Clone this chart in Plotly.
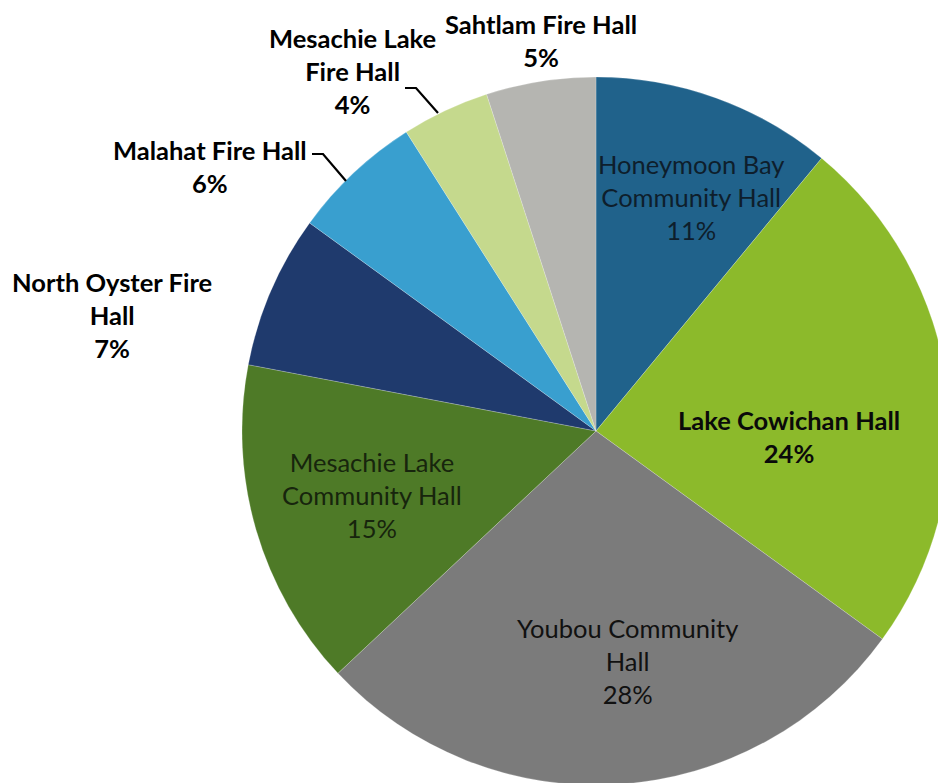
import plotly.graph_objects as go

# Share of usage by hall, clockwise from 12 o'clock
halls = [
    "Honeymoon Bay Community Hall",
    "Lake Cowichan Hall",
    "Youbou Community Hall",
    "Mesachie Lake Community Hall",
    "North Oyster Fire Hall",
    "Malahat Fire Hall",
    "Mesachie Lake Fire Hall",
    "Sahtlam Fire Hall",
]
shares = [11, 24, 28, 15, 7, 6, 4, 5]
colors = ["#20628b", "#8cba2b", "#7b7b7b", "#4e7a27",
          "#1f3a6d", "#399fcf", "#c5d98d", "#b5b5b1"]

# Label text as drawn (line breaks) and placement in page pixels
label_lines = [
    ["Honeymoon Bay", "Community Hall"],
    ["Lake Cowichan Hall"],
    ["Youbou Community", "Hall"],
    ["Mesachie Lake", "Community Hall"],
    ["North Oyster Fire", "Hall"],
    ["Malahat Fire Hall"],
    ["Mesachie Lake", "Fire Hall"],
    ["Sahtlam Fire Hall"],
]
label_xy = [(691, 197), (789, 436), (627, 661), (372, 495),
            (112, 315), (210, 166), (352, 71), (541, 40)]
label_bold = [False, True, False, False, True, True, True, True]
label_color = ["#0e1e2c", "#0a0a0a", "#111111", "#17250d",
               "#000000", "#000000", "#000000", "#000000"]

# Leader lines for the labels sitting outside the pie (page pixels)
leaders = [
    [(312, 154), (323, 154), (346, 181)],
    [(405, 88), (416, 88), (438, 113)],
]

W, H = 1000, 850
CX, CY, R = 596, 431, 354


def paper(x, y):
    return x / W, 1 - y / H


fig = go.Figure(go.Pie(
    labels=halls,
    values=shares,
    sort=False,
    direction="clockwise",
    rotation=0,
    marker=dict(colors=colors, line=dict(color="rgba(255,255,255,0.35)", width=0.6)),
    textinfo="none",
    hoverinfo="skip",
    showlegend=False,
    domain=dict(x=[(CX - R) / W, (CX + R) / W],
                y=[1 - (CY + R) / H, 1 - (CY - R) / H]),
))

annotations = []
for lines, share, (x, y), bold, col in zip(label_lines, shares, label_xy,
                                          label_bold, label_color):
    body = "<br>".join(lines + [f"{share}%"])
    if bold:
        body = "<b>" + body + "</b>"
    px, py = paper(x, y)
    annotations.append(dict(
        x=px, y=py, xref="paper", yref="paper", text=body, showarrow=False,
        xanchor="center", yanchor="middle", align="center",
        font=dict(family="Lato, 'Open Sans', sans-serif", size=25.5, color=col),
    ))

shapes = []
for pts in leaders:
    path = "M " + " L ".join(f"{paper(x, y)[0]},{paper(x, y)[1]}" for x, y in pts)
    shapes.append(dict(type="path", xref="paper", yref="paper", path=path,
                       line=dict(color="#000000", width=2.2)))

fig.update_layout(
    width=W, height=H,
    margin=dict(l=0, r=0, t=0, b=0),
    paper_bgcolor="#ffffff",
    plot_bgcolor="#ffffff",
    annotations=annotations,
    shapes=shapes,
)

fig.write_html(
    "out.html",
    config={"displayModeBar": False},
    post_script=(
        "var gd=document.getElementById('{plot_id}');"
        "document.body.style.margin='0';"
        "gd.parentElement.style.width='938px';"
        "gd.parentElement.style.height='783px';"
        "gd.parentElement.style.overflow='hidden';"
        "document.documentElement.style.overflow='hidden';"
    ),
)
